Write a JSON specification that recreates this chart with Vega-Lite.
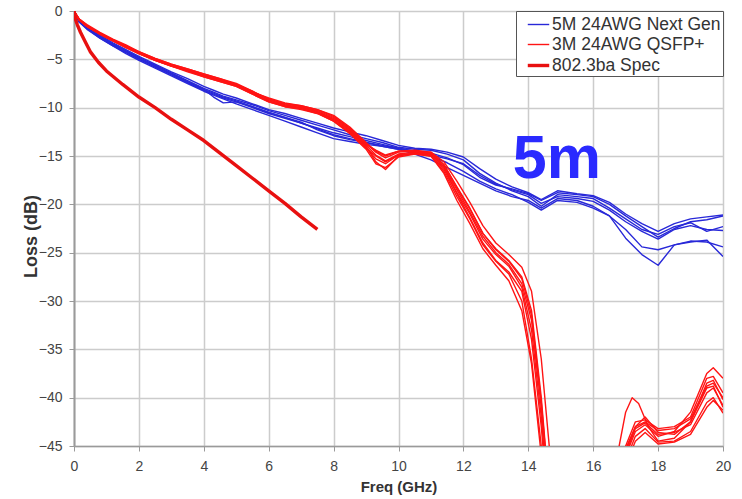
{
"$schema": "https://vega.github.io/schema/vega-lite/v6.json",
"width": 649, "height": 435,
"autosize": {"type": "none"},
"padding": {"left": 74, "top": 11, "right": 19, "bottom": 53},
"background": "white",
"config": {"view": {"stroke": null}, "font": "Liberation Sans"},
"datasets": {
"grp": [
{"s":"b1","g":"5M 24AWG Next Gen"},{"s":"b2","g":"5M 24AWG Next Gen"},{"s":"b3","g":"5M 24AWG Next Gen"},{"s":"b4","g":"5M 24AWG Next Gen"},{"s":"b5","g":"5M 24AWG Next Gen"},{"s":"b6","g":"5M 24AWG Next Gen"},
{"s":"r1","g":"3M 24AWG QSFP+"},{"s":"r2","g":"3M 24AWG QSFP+"},{"s":"r3","g":"3M 24AWG QSFP+"},{"s":"r4","g":"3M 24AWG QSFP+"},{"s":"r5","g":"3M 24AWG QSFP+"},{"s":"r6","g":"3M 24AWG QSFP+"},{"s":"r7","g":"3M 24AWG QSFP+"},{"s":"r8","g":"3M 24AWG QSFP+"},
{"s":"sp","g":"802.3ba Spec"}
],
"pts": [
{"s":"b1","f":0,"l":0},{"s":"b1","f":0.15,"l":-1.0},{"s":"b1","f":0.4,"l":-1.7},{"s":"b1","f":0.8,"l":-2.6},{"s":"b1","f":1.2,"l":-3.4},{"s":"b1","f":1.6,"l":-4.1},{"s":"b1","f":2,"l":-4.8},{"s":"b1","f":2.5,"l":-5.6},{"s":"b1","f":3,"l":-6.4},{"s":"b1","f":3.5,"l":-7.2},{"s":"b1","f":4,"l":-8.0},{"s":"b1","f":4.3,"l":-8.4},{"s":"b1","f":4.6,"l":-8.8},{"s":"b1","f":5,"l":-9.2},{"s":"b1","f":5.5,"l":-9.7},{"s":"b1","f":6,"l":-10.3},{"s":"b1","f":6.5,"l":-10.8},{"s":"b1","f":7,"l":-11.3},{"s":"b1","f":7.5,"l":-11.8},{"s":"b1","f":8,"l":-12.3},{"s":"b1","f":8.5,"l":-12.8},{"s":"b1","f":9,"l":-13.2},{"s":"b1","f":9.5,"l":-13.6},{"s":"b1","f":10,"l":-14.1},{"s":"b1","f":10.5,"l":-14.3},{"s":"b1","f":11,"l":-14.4},{"s":"b1","f":11.5,"l":-14.8},{"s":"b1","f":12,"l":-15.4},{"s":"b1","f":12.5,"l":-16.8},{"s":"b1","f":13,"l":-17.8},{"s":"b1","f":13.5,"l":-18.6},{"s":"b1","f":14,"l":-19.2},{"s":"b1","f":14.4,"l":-20.2},{"s":"b1","f":14.9,"l":-19.0},{"s":"b1","f":15.5,"l":-19.2},{"s":"b1","f":16,"l":-19.4},{"s":"b1","f":16.5,"l":-20.4},{"s":"b1","f":17,"l":-21.5},{"s":"b1","f":17.5,"l":-22.6},{"s":"b1","f":18,"l":-23.1},{"s":"b1","f":18.5,"l":-22.3},{"s":"b1","f":19,"l":-21.9},{"s":"b1","f":19.5,"l":-22.8},{"s":"b1","f":20,"l":-22.3},
{"s":"b2","f":0,"l":0},{"s":"b2","f":0.15,"l":-1.1},{"s":"b2","f":0.4,"l":-1.8},{"s":"b2","f":0.8,"l":-2.8},{"s":"b2","f":1.2,"l":-3.6},{"s":"b2","f":1.6,"l":-4.3},{"s":"b2","f":2,"l":-5.0},{"s":"b2","f":2.5,"l":-5.8},{"s":"b2","f":3,"l":-6.6},{"s":"b2","f":3.5,"l":-7.4},{"s":"b2","f":4,"l":-8.2},{"s":"b2","f":4.3,"l":-8.6},{"s":"b2","f":4.6,"l":-9.0},{"s":"b2","f":5,"l":-9.4},{"s":"b2","f":5.5,"l":-10.0},{"s":"b2","f":6,"l":-10.6},{"s":"b2","f":6.5,"l":-11.1},{"s":"b2","f":7,"l":-11.6},{"s":"b2","f":7.5,"l":-12.1},{"s":"b2","f":8,"l":-12.6},{"s":"b2","f":8.5,"l":-13.0},{"s":"b2","f":9,"l":-13.4},{"s":"b2","f":9.5,"l":-13.8},{"s":"b2","f":10,"l":-14.2},{"s":"b2","f":10.5,"l":-14.5},{"s":"b2","f":11,"l":-14.7},{"s":"b2","f":11.5,"l":-15.2},{"s":"b2","f":12,"l":-15.9},{"s":"b2","f":12.5,"l":-17.2},{"s":"b2","f":13,"l":-18.0},{"s":"b2","f":13.5,"l":-18.4},{"s":"b2","f":14,"l":-18.9},{"s":"b2","f":14.4,"l":-19.6},{"s":"b2","f":14.9,"l":-18.8},{"s":"b2","f":15.5,"l":-19.0},{"s":"b2","f":16,"l":-19.2},{"s":"b2","f":16.5,"l":-20.0},{"s":"b2","f":17,"l":-21.2},{"s":"b2","f":17.5,"l":-22.3},{"s":"b2","f":18,"l":-23.4},{"s":"b2","f":18.5,"l":-22.5},{"s":"b2","f":19,"l":-21.8},{"s":"b2","f":19.5,"l":-21.6},{"s":"b2","f":20,"l":-21.2},
{"s":"b3","f":0,"l":0},{"s":"b3","f":0.15,"l":-1.0},{"s":"b3","f":0.4,"l":-1.8},{"s":"b3","f":0.8,"l":-2.7},{"s":"b3","f":1.2,"l":-3.5},{"s":"b3","f":1.6,"l":-4.2},{"s":"b3","f":2,"l":-4.9},{"s":"b3","f":2.5,"l":-5.7},{"s":"b3","f":3,"l":-6.5},{"s":"b3","f":3.5,"l":-7.3},{"s":"b3","f":4,"l":-8.1},{"s":"b3","f":4.3,"l":-8.9},{"s":"b3","f":4.6,"l":-9.5},{"s":"b3","f":5,"l":-9.4},{"s":"b3","f":5.5,"l":-9.9},{"s":"b3","f":6,"l":-10.5},{"s":"b3","f":6.5,"l":-11.0},{"s":"b3","f":7,"l":-11.6},{"s":"b3","f":7.5,"l":-12.2},{"s":"b3","f":8,"l":-12.8},{"s":"b3","f":8.5,"l":-13.2},{"s":"b3","f":9,"l":-13.6},{"s":"b3","f":9.5,"l":-14.0},{"s":"b3","f":10,"l":-14.3},{"s":"b3","f":10.5,"l":-14.6},{"s":"b3","f":11,"l":-15.0},{"s":"b3","f":11.5,"l":-15.7},{"s":"b3","f":12,"l":-16.6},{"s":"b3","f":12.5,"l":-17.6},{"s":"b3","f":13,"l":-18.4},{"s":"b3","f":13.5,"l":-19.0},{"s":"b3","f":14,"l":-19.8},{"s":"b3","f":14.4,"l":-20.6},{"s":"b3","f":14.9,"l":-19.6},{"s":"b3","f":15.5,"l":-19.8},{"s":"b3","f":16,"l":-20.4},{"s":"b3","f":16.5,"l":-21.2},{"s":"b3","f":17,"l":-23.5},{"s":"b3","f":17.5,"l":-25.2},{"s":"b3","f":18,"l":-26.3},{"s":"b3","f":18.5,"l":-24.2},{"s":"b3","f":19,"l":-23.9},{"s":"b3","f":19.5,"l":-23.7},{"s":"b3","f":20,"l":-25.4},
{"s":"b4","f":0,"l":0},{"s":"b4","f":0.15,"l":-1.1},{"s":"b4","f":0.4,"l":-1.9},{"s":"b4","f":0.8,"l":-2.8},{"s":"b4","f":1.2,"l":-3.6},{"s":"b4","f":1.6,"l":-4.4},{"s":"b4","f":2,"l":-5.1},{"s":"b4","f":2.5,"l":-5.9},{"s":"b4","f":3,"l":-6.7},{"s":"b4","f":3.5,"l":-7.5},{"s":"b4","f":4,"l":-8.3},{"s":"b4","f":4.3,"l":-8.7},{"s":"b4","f":4.6,"l":-9.1},{"s":"b4","f":5,"l":-9.6},{"s":"b4","f":5.5,"l":-10.2},{"s":"b4","f":6,"l":-10.8},{"s":"b4","f":6.5,"l":-11.4},{"s":"b4","f":7,"l":-12.0},{"s":"b4","f":7.5,"l":-12.6},{"s":"b4","f":8,"l":-13.2},{"s":"b4","f":8.5,"l":-13.5},{"s":"b4","f":9,"l":-13.8},{"s":"b4","f":9.5,"l":-14.0},{"s":"b4","f":10,"l":-14.3},{"s":"b4","f":10.5,"l":-14.8},{"s":"b4","f":11,"l":-15.4},{"s":"b4","f":11.5,"l":-16.2},{"s":"b4","f":12,"l":-17.0},{"s":"b4","f":12.5,"l":-17.8},{"s":"b4","f":13,"l":-18.6},{"s":"b4","f":13.5,"l":-19.2},{"s":"b4","f":14,"l":-19.6},{"s":"b4","f":14.4,"l":-20.4},{"s":"b4","f":14.9,"l":-19.4},{"s":"b4","f":15.5,"l":-19.6},{"s":"b4","f":16,"l":-20.2},{"s":"b4","f":16.5,"l":-21.2},{"s":"b4","f":17,"l":-22.6},{"s":"b4","f":17.5,"l":-24.4},{"s":"b4","f":18,"l":-24.7},{"s":"b4","f":18.5,"l":-24.2},{"s":"b4","f":19,"l":-23.8},{"s":"b4","f":19.5,"l":-23.9},{"s":"b4","f":20,"l":-24.4},
{"s":"b5","f":0,"l":0},{"s":"b5","f":0.15,"l":-0.9},{"s":"b5","f":0.4,"l":-1.6},{"s":"b5","f":0.8,"l":-2.5},{"s":"b5","f":1.2,"l":-3.3},{"s":"b5","f":1.6,"l":-4.0},{"s":"b5","f":2,"l":-4.7},{"s":"b5","f":2.5,"l":-5.5},{"s":"b5","f":3,"l":-6.3},{"s":"b5","f":3.5,"l":-7.0},{"s":"b5","f":4,"l":-7.8},{"s":"b5","f":4.3,"l":-8.2},{"s":"b5","f":4.6,"l":-8.6},{"s":"b5","f":5,"l":-9.0},{"s":"b5","f":5.5,"l":-9.6},{"s":"b5","f":6,"l":-10.2},{"s":"b5","f":6.5,"l":-10.6},{"s":"b5","f":7,"l":-11.1},{"s":"b5","f":7.5,"l":-11.6},{"s":"b5","f":8,"l":-12.1},{"s":"b5","f":8.5,"l":-12.5},{"s":"b5","f":9,"l":-12.9},{"s":"b5","f":9.5,"l":-13.4},{"s":"b5","f":10,"l":-13.9},{"s":"b5","f":10.5,"l":-14.2},{"s":"b5","f":11,"l":-14.3},{"s":"b5","f":11.5,"l":-14.6},{"s":"b5","f":12,"l":-15.1},{"s":"b5","f":12.5,"l":-16.3},{"s":"b5","f":13,"l":-17.4},{"s":"b5","f":13.5,"l":-18.2},{"s":"b5","f":14,"l":-18.8},{"s":"b5","f":14.4,"l":-19.5},{"s":"b5","f":14.9,"l":-18.6},{"s":"b5","f":15.5,"l":-18.9},{"s":"b5","f":16,"l":-19.1},{"s":"b5","f":16.5,"l":-19.8},{"s":"b5","f":17,"l":-21.0},{"s":"b5","f":17.5,"l":-22.0},{"s":"b5","f":18,"l":-22.8},{"s":"b5","f":18.5,"l":-22.0},{"s":"b5","f":19,"l":-21.5},{"s":"b5","f":19.5,"l":-21.3},{"s":"b5","f":20,"l":-21.1},
{"s":"b6","f":0,"l":0},{"s":"b6","f":0.15,"l":-1.0},{"s":"b6","f":0.4,"l":-1.7},{"s":"b6","f":0.8,"l":-2.7},{"s":"b6","f":1.2,"l":-3.5},{"s":"b6","f":1.6,"l":-4.2},{"s":"b6","f":2,"l":-4.9},{"s":"b6","f":2.5,"l":-5.7},{"s":"b6","f":3,"l":-6.5},{"s":"b6","f":3.5,"l":-7.3},{"s":"b6","f":4,"l":-8.1},{"s":"b6","f":4.3,"l":-8.5},{"s":"b6","f":4.6,"l":-8.9},{"s":"b6","f":5,"l":-9.3},{"s":"b6","f":5.5,"l":-9.9},{"s":"b6","f":6,"l":-10.5},{"s":"b6","f":6.5,"l":-11.0},{"s":"b6","f":7,"l":-11.5},{"s":"b6","f":7.5,"l":-12.3},{"s":"b6","f":8,"l":-12.9},{"s":"b6","f":8.5,"l":-13.3},{"s":"b6","f":9,"l":-13.6},{"s":"b6","f":9.5,"l":-13.9},{"s":"b6","f":10,"l":-14.2},{"s":"b6","f":10.5,"l":-14.5},{"s":"b6","f":11,"l":-14.9},{"s":"b6","f":11.5,"l":-15.3},{"s":"b6","f":12,"l":-15.8},{"s":"b6","f":12.5,"l":-17.0},{"s":"b6","f":13,"l":-17.9},{"s":"b6","f":13.5,"l":-18.5},{"s":"b6","f":14,"l":-19.0},{"s":"b6","f":14.4,"l":-19.9},{"s":"b6","f":14.9,"l":-19.2},{"s":"b6","f":15.5,"l":-19.4},{"s":"b6","f":16,"l":-19.7},{"s":"b6","f":16.5,"l":-20.6},{"s":"b6","f":17,"l":-21.8},{"s":"b6","f":17.5,"l":-22.8},{"s":"b6","f":18,"l":-23.6},{"s":"b6","f":18.5,"l":-22.6},{"s":"b6","f":19,"l":-22.2},{"s":"b6","f":19.5,"l":-22.6},{"s":"b6","f":20,"l":-22.7},
{"s":"r1","f":0,"l":0},{"s":"r1","f":0.15,"l":-0.8},{"s":"r1","f":0.4,"l":-1.5},{"s":"r1","f":0.8,"l":-2.3},{"s":"r1","f":1.2,"l":-3.0},{"s":"r1","f":1.6,"l":-3.6},{"s":"r1","f":2,"l":-4.2},{"s":"r1","f":2.5,"l":-4.9},{"s":"r1","f":3,"l":-5.5},{"s":"r1","f":3.5,"l":-6.0},{"s":"r1","f":4,"l":-6.5},{"s":"r1","f":4.5,"l":-7.0},{"s":"r1","f":5,"l":-7.5},{"s":"r1","f":5.5,"l":-8.3},{"s":"r1","f":6,"l":-9.1},{"s":"r1","f":6.5,"l":-9.6},{"s":"r1","f":7,"l":-9.8},{"s":"r1","f":7.5,"l":-10.2},{"s":"r1","f":8,"l":-10.8},{"s":"r1","f":8.5,"l":-12.0},{"s":"r1","f":9,"l":-13.6},{"s":"r1","f":9.3,"l":-14.5},{"s":"r1","f":9.6,"l":-15.0},{"s":"r1","f":10,"l":-14.5},{"s":"r1","f":10.5,"l":-14.4},{"s":"r1","f":11,"l":-14.6},{"s":"r1","f":11.4,"l":-15.6},{"s":"r1","f":11.8,"l":-17.6},{"s":"r1","f":12.2,"l":-19.8},{"s":"r1","f":12.6,"l":-22.2},{"s":"r1","f":13,"l":-24.0},{"s":"r1","f":13.4,"l":-25.2},{"s":"r1","f":13.8,"l":-26.5},{"s":"r1","f":14.1,"l":-29.0},{"s":"r1","f":14.4,"l":-36.0},{"s":"r1","f":14.7,"l":-47},{"s":"r1","f":15.5,"l":-70},{"s":"r1","f":16.5,"l":-50},{"s":"r1","f":16.8,"l":-45},{"s":"r1","f":17,"l":-41.5},{"s":"r1","f":17.2,"l":-40.0},{"s":"r1","f":17.4,"l":-40.6},{"s":"r1","f":17.7,"l":-43},{"s":"r1","f":18,"l":-44.5},{"s":"r1","f":18.5,"l":-44.2},{"s":"r1","f":19,"l":-42.5},{"s":"r1","f":19.5,"l":-38.5},{"s":"r1","f":19.7,"l":-38.2},{"s":"r1","f":20,"l":-40.2},
{"s":"r2","f":0,"l":0},{"s":"r2","f":0.15,"l":-0.9},{"s":"r2","f":0.4,"l":-1.6},{"s":"r2","f":0.8,"l":-2.4},{"s":"r2","f":1.2,"l":-3.1},{"s":"r2","f":1.6,"l":-3.7},{"s":"r2","f":2,"l":-4.4},{"s":"r2","f":2.5,"l":-5.1},{"s":"r2","f":3,"l":-5.7},{"s":"r2","f":3.5,"l":-6.2},{"s":"r2","f":4,"l":-6.7},{"s":"r2","f":4.5,"l":-7.2},{"s":"r2","f":5,"l":-7.7},{"s":"r2","f":5.5,"l":-8.5},{"s":"r2","f":6,"l":-9.3},{"s":"r2","f":6.5,"l":-9.8},{"s":"r2","f":7,"l":-10.0},{"s":"r2","f":7.5,"l":-10.4},{"s":"r2","f":8,"l":-11.2},{"s":"r2","f":8.5,"l":-12.4},{"s":"r2","f":9,"l":-14.0},{"s":"r2","f":9.3,"l":-15.6},{"s":"r2","f":9.6,"l":-16.4},{"s":"r2","f":10,"l":-15.0},{"s":"r2","f":10.5,"l":-14.7},{"s":"r2","f":11,"l":-14.8},{"s":"r2","f":11.4,"l":-16.2},{"s":"r2","f":11.8,"l":-18.8},{"s":"r2","f":12.2,"l":-21.0},{"s":"r2","f":12.6,"l":-23.6},{"s":"r2","f":13,"l":-25.2},{"s":"r2","f":13.4,"l":-26.4},{"s":"r2","f":13.8,"l":-28.6},{"s":"r2","f":14.1,"l":-33.0},{"s":"r2","f":14.4,"l":-42.0},{"s":"r2","f":14.7,"l":-54},{"s":"r2","f":15.5,"l":-70},{"s":"r2","f":16.5,"l":-55},{"s":"r2","f":17,"l":-45.5},{"s":"r2","f":17.3,"l":-43.0},{"s":"r2","f":17.6,"l":-42.0},{"s":"r2","f":18,"l":-43.6},{"s":"r2","f":18.5,"l":-43.8},{"s":"r2","f":19,"l":-42.5},{"s":"r2","f":19.5,"l":-39.0},{"s":"r2","f":19.7,"l":-38.8},{"s":"r2","f":20,"l":-41.0},
{"s":"r3","f":0,"l":0},{"s":"r3","f":0.15,"l":-0.8},{"s":"r3","f":0.4,"l":-1.4},{"s":"r3","f":0.8,"l":-2.2},{"s":"r3","f":1.2,"l":-2.9},{"s":"r3","f":1.6,"l":-3.5},{"s":"r3","f":2,"l":-4.2},{"s":"r3","f":2.5,"l":-4.9},{"s":"r3","f":3,"l":-5.5},{"s":"r3","f":3.5,"l":-6.0},{"s":"r3","f":4,"l":-6.5},{"s":"r3","f":4.5,"l":-7.0},{"s":"r3","f":5,"l":-7.6},{"s":"r3","f":5.5,"l":-8.4},{"s":"r3","f":6,"l":-9.0},{"s":"r3","f":6.5,"l":-9.5},{"s":"r3","f":7,"l":-9.8},{"s":"r3","f":7.5,"l":-10.2},{"s":"r3","f":8,"l":-10.9},{"s":"r3","f":8.5,"l":-12.1},{"s":"r3","f":9,"l":-13.7},{"s":"r3","f":9.3,"l":-14.6},{"s":"r3","f":9.6,"l":-15.2},{"s":"r3","f":10,"l":-14.6},{"s":"r3","f":10.5,"l":-14.5},{"s":"r3","f":11,"l":-14.6},{"s":"r3","f":11.4,"l":-15.9},{"s":"r3","f":11.8,"l":-18.2},{"s":"r3","f":12.2,"l":-20.4},{"s":"r3","f":12.6,"l":-23.0},{"s":"r3","f":13,"l":-24.6},{"s":"r3","f":13.4,"l":-25.8},{"s":"r3","f":13.8,"l":-27.5},{"s":"r3","f":14.1,"l":-31.0},{"s":"r3","f":14.4,"l":-40.0},{"s":"r3","f":14.7,"l":-52},{"s":"r3","f":15.5,"l":-70},{"s":"r3","f":16.5,"l":-56},{"s":"r3","f":17,"l":-46},{"s":"r3","f":17.3,"l":-43.5},{"s":"r3","f":17.6,"l":-42.8},{"s":"r3","f":18,"l":-44.0},{"s":"r3","f":18.5,"l":-43.5},{"s":"r3","f":19,"l":-41.5},{"s":"r3","f":19.5,"l":-37.5},{"s":"r3","f":19.7,"l":-36.9},{"s":"r3","f":20,"l":-38.0},
{"s":"r4","f":0,"l":0},{"s":"r4","f":0.15,"l":-0.9},{"s":"r4","f":0.4,"l":-1.6},{"s":"r4","f":0.8,"l":-2.4},{"s":"r4","f":1.2,"l":-3.1},{"s":"r4","f":1.6,"l":-3.8},{"s":"r4","f":2,"l":-4.4},{"s":"r4","f":2.5,"l":-5.1},{"s":"r4","f":3,"l":-5.7},{"s":"r4","f":3.5,"l":-6.2},{"s":"r4","f":4,"l":-6.8},{"s":"r4","f":4.5,"l":-7.3},{"s":"r4","f":5,"l":-7.8},{"s":"r4","f":5.5,"l":-8.6},{"s":"r4","f":6,"l":-9.4},{"s":"r4","f":6.5,"l":-9.9},{"s":"r4","f":7,"l":-10.1},{"s":"r4","f":7.5,"l":-10.6},{"s":"r4","f":8,"l":-11.4},{"s":"r4","f":8.5,"l":-12.6},{"s":"r4","f":9,"l":-14.2},{"s":"r4","f":9.3,"l":-15.0},{"s":"r4","f":9.6,"l":-15.6},{"s":"r4","f":10,"l":-14.9},{"s":"r4","f":10.5,"l":-14.8},{"s":"r4","f":11,"l":-15.0},{"s":"r4","f":11.4,"l":-16.8},{"s":"r4","f":11.8,"l":-19.6},{"s":"r4","f":12.2,"l":-22.0},{"s":"r4","f":12.6,"l":-24.6},{"s":"r4","f":13,"l":-26.3},{"s":"r4","f":13.4,"l":-27.9},{"s":"r4","f":13.8,"l":-31.0},{"s":"r4","f":14.1,"l":-36.5},{"s":"r4","f":14.4,"l":-46.0},{"s":"r4","f":14.7,"l":-58},{"s":"r4","f":15.5,"l":-70},{"s":"r4","f":16.5,"l":-58},{"s":"r4","f":17,"l":-46.5},{"s":"r4","f":17.3,"l":-44.0},{"s":"r4","f":17.6,"l":-43.2},{"s":"r4","f":18,"l":-44.6},{"s":"r4","f":18.5,"l":-44.5},{"s":"r4","f":19,"l":-43.5},{"s":"r4","f":19.5,"l":-40.5},{"s":"r4","f":19.7,"l":-40.0},{"s":"r4","f":20,"l":-41.6},
{"s":"r5","f":0,"l":0},{"s":"r5","f":0.15,"l":-0.8},{"s":"r5","f":0.4,"l":-1.5},{"s":"r5","f":0.8,"l":-2.3},{"s":"r5","f":1.2,"l":-3.0},{"s":"r5","f":1.6,"l":-3.6},{"s":"r5","f":2,"l":-4.3},{"s":"r5","f":2.5,"l":-5.0},{"s":"r5","f":3,"l":-5.6},{"s":"r5","f":3.5,"l":-6.1},{"s":"r5","f":4,"l":-6.6},{"s":"r5","f":4.5,"l":-7.1},{"s":"r5","f":5,"l":-7.6},{"s":"r5","f":5.5,"l":-8.3},{"s":"r5","f":6,"l":-9.2},{"s":"r5","f":6.5,"l":-9.7},{"s":"r5","f":7,"l":-10.0},{"s":"r5","f":7.5,"l":-10.4},{"s":"r5","f":8,"l":-11.1},{"s":"r5","f":8.5,"l":-12.3},{"s":"r5","f":9,"l":-13.9},{"s":"r5","f":9.3,"l":-14.9},{"s":"r5","f":9.6,"l":-15.5},{"s":"r5","f":10,"l":-14.8},{"s":"r5","f":10.5,"l":-14.6},{"s":"r5","f":11,"l":-14.7},{"s":"r5","f":11.4,"l":-16.1},{"s":"r5","f":11.8,"l":-18.5},{"s":"r5","f":12.2,"l":-20.8},{"s":"r5","f":12.6,"l":-23.3},{"s":"r5","f":13,"l":-25.0},{"s":"r5","f":13.4,"l":-26.2},{"s":"r5","f":13.8,"l":-28.2},{"s":"r5","f":14.1,"l":-32.0},{"s":"r5","f":14.4,"l":-41.0},{"s":"r5","f":14.7,"l":-53},{"s":"r5","f":15.5,"l":-70},{"s":"r5","f":16.5,"l":-54},{"s":"r5","f":17,"l":-45.0},{"s":"r5","f":17.3,"l":-42.5},{"s":"r5","f":17.6,"l":-42.3},{"s":"r5","f":18,"l":-43.2},{"s":"r5","f":18.5,"l":-43.0},{"s":"r5","f":19,"l":-42.0},{"s":"r5","f":19.5,"l":-38.0},{"s":"r5","f":19.7,"l":-37.8},{"s":"r5","f":20,"l":-39.5},
{"s":"r6","f":0,"l":0},{"s":"r6","f":0.15,"l":-0.9},{"s":"r6","f":0.4,"l":-1.6},{"s":"r6","f":0.8,"l":-2.4},{"s":"r6","f":1.2,"l":-3.1},{"s":"r6","f":1.6,"l":-3.7},{"s":"r6","f":2,"l":-4.3},{"s":"r6","f":2.5,"l":-5.0},{"s":"r6","f":3,"l":-5.6},{"s":"r6","f":3.5,"l":-6.2},{"s":"r6","f":4,"l":-6.7},{"s":"r6","f":4.5,"l":-7.2},{"s":"r6","f":5,"l":-7.7},{"s":"r6","f":5.5,"l":-8.5},{"s":"r6","f":6,"l":-9.3},{"s":"r6","f":6.5,"l":-9.8},{"s":"r6","f":7,"l":-10.1},{"s":"r6","f":7.5,"l":-10.5},{"s":"r6","f":8,"l":-11.3},{"s":"r6","f":8.5,"l":-12.5},{"s":"r6","f":9,"l":-14.1},{"s":"r6","f":9.3,"l":-15.3},{"s":"r6","f":9.6,"l":-15.8},{"s":"r6","f":10,"l":-14.9},{"s":"r6","f":10.5,"l":-14.7},{"s":"r6","f":11,"l":-14.9},{"s":"r6","f":11.4,"l":-16.4},{"s":"r6","f":11.8,"l":-18.9},{"s":"r6","f":12.2,"l":-21.4},{"s":"r6","f":12.6,"l":-24.0},{"s":"r6","f":13,"l":-25.8},{"s":"r6","f":13.4,"l":-27.0},{"s":"r6","f":13.8,"l":-29.0},{"s":"r6","f":14.1,"l":-34.0},{"s":"r6","f":14.4,"l":-43.0},{"s":"r6","f":14.7,"l":-55},{"s":"r6","f":15.5,"l":-70},{"s":"r6","f":16.5,"l":-57},{"s":"r6","f":17,"l":-45.8},{"s":"r6","f":17.3,"l":-43.2},{"s":"r6","f":17.6,"l":-42.6},{"s":"r6","f":18,"l":-43.8},{"s":"r6","f":18.5,"l":-43.6},{"s":"r6","f":19,"l":-42.8},{"s":"r6","f":19.5,"l":-39.5},{"s":"r6","f":19.7,"l":-39.0},{"s":"r6","f":20,"l":-40.8},
{"s":"r7","f":0,"l":0},{"s":"r7","f":0.15,"l":-0.8},{"s":"r7","f":0.4,"l":-1.5},{"s":"r7","f":0.8,"l":-2.3},{"s":"r7","f":1.2,"l":-3.0},{"s":"r7","f":1.6,"l":-3.6},{"s":"r7","f":2,"l":-4.3},{"s":"r7","f":2.5,"l":-5.0},{"s":"r7","f":3,"l":-5.6},{"s":"r7","f":3.5,"l":-6.1},{"s":"r7","f":4,"l":-6.6},{"s":"r7","f":4.5,"l":-7.1},{"s":"r7","f":5,"l":-7.6},{"s":"r7","f":5.5,"l":-8.4},{"s":"r7","f":6,"l":-9.1},{"s":"r7","f":6.5,"l":-9.6},{"s":"r7","f":7,"l":-9.9},{"s":"r7","f":7.5,"l":-10.3},{"s":"r7","f":8,"l":-11.0},{"s":"r7","f":8.5,"l":-12.2},{"s":"r7","f":9,"l":-13.8},{"s":"r7","f":9.3,"l":-14.4},{"s":"r7","f":9.6,"l":-14.9},{"s":"r7","f":10,"l":-14.5},{"s":"r7","f":10.5,"l":-14.5},{"s":"r7","f":11,"l":-14.7},{"s":"r7","f":11.4,"l":-15.9},{"s":"r7","f":11.8,"l":-18.3},{"s":"r7","f":12.2,"l":-20.5},{"s":"r7","f":12.6,"l":-23.0},{"s":"r7","f":13,"l":-24.7},{"s":"r7","f":13.4,"l":-25.9},{"s":"r7","f":13.8,"l":-27.7},{"s":"r7","f":14.1,"l":-31.5},{"s":"r7","f":14.4,"l":-40.5},{"s":"r7","f":14.7,"l":-52},{"s":"r7","f":15.5,"l":-70},{"s":"r7","f":16.5,"l":-55},{"s":"r7","f":17,"l":-45.3},{"s":"r7","f":17.3,"l":-43.0},{"s":"r7","f":17.6,"l":-42.5},{"s":"r7","f":18,"l":-43.4},{"s":"r7","f":18.5,"l":-43.2},{"s":"r7","f":19,"l":-42.2},{"s":"r7","f":19.5,"l":-38.8},{"s":"r7","f":19.7,"l":-38.5},{"s":"r7","f":20,"l":-40.0},
{"s":"r8","f":0,"l":0},{"s":"r8","f":0.15,"l":-0.9},{"s":"r8","f":0.4,"l":-1.6},{"s":"r8","f":0.8,"l":-2.4},{"s":"r8","f":1.2,"l":-3.1},{"s":"r8","f":1.6,"l":-3.8},{"s":"r8","f":2,"l":-4.4},{"s":"r8","f":2.5,"l":-5.1},{"s":"r8","f":3,"l":-5.7},{"s":"r8","f":3.5,"l":-6.3},{"s":"r8","f":4,"l":-6.8},{"s":"r8","f":4.5,"l":-7.3},{"s":"r8","f":5,"l":-7.8},{"s":"r8","f":5.5,"l":-8.6},{"s":"r8","f":6,"l":-9.4},{"s":"r8","f":6.5,"l":-9.9},{"s":"r8","f":7,"l":-10.2},{"s":"r8","f":7.5,"l":-10.6},{"s":"r8","f":8,"l":-11.4},{"s":"r8","f":8.5,"l":-12.7},{"s":"r8","f":9,"l":-14.3},{"s":"r8","f":9.3,"l":-15.8},{"s":"r8","f":9.6,"l":-16.2},{"s":"r8","f":10,"l":-15.1},{"s":"r8","f":10.5,"l":-14.8},{"s":"r8","f":11,"l":-15.0},{"s":"r8","f":11.4,"l":-16.6},{"s":"r8","f":11.8,"l":-19.2},{"s":"r8","f":12.2,"l":-21.5},{"s":"r8","f":12.6,"l":-24.2},{"s":"r8","f":13,"l":-25.9},{"s":"r8","f":13.4,"l":-27.2},{"s":"r8","f":13.8,"l":-30.0},{"s":"r8","f":14.1,"l":-36.0},{"s":"r8","f":14.4,"l":-45.0},{"s":"r8","f":14.7,"l":-57},{"s":"r8","f":15.5,"l":-70},{"s":"r8","f":16.5,"l":-58},{"s":"r8","f":17,"l":-47.0},{"s":"r8","f":17.3,"l":-44.5},{"s":"r8","f":17.6,"l":-43.6},{"s":"r8","f":18,"l":-44.8},{"s":"r8","f":18.5,"l":-44.6},{"s":"r8","f":19,"l":-43.8},{"s":"r8","f":19.5,"l":-41.0},{"s":"r8","f":19.7,"l":-40.3},{"s":"r8","f":20,"l":-41.3},
{"s":"sp","f":0,"l":0},{"s":"sp","f":0.05,"l":-0.9},{"s":"sp","f":0.1,"l":-1.4},{"s":"sp","f":0.2,"l":-2.2},{"s":"sp","f":0.35,"l":-3.2},{"s":"sp","f":0.5,"l":-4.2},{"s":"sp","f":0.75,"l":-5.3},{"s":"sp","f":1,"l":-6.2},{"s":"sp","f":1.5,"l":-7.6},{"s":"sp","f":2,"l":-8.9},{"s":"sp","f":2.5,"l":-10.0},{"s":"sp","f":3,"l":-11.2},{"s":"sp","f":3.5,"l":-12.3},{"s":"sp","f":4,"l":-13.4},{"s":"sp","f":4.5,"l":-14.7},{"s":"sp","f":5,"l":-16.0},{"s":"sp","f":5.5,"l":-17.3},{"s":"sp","f":6,"l":-18.6},{"s":"sp","f":6.5,"l":-19.9},{"s":"sp","f":7,"l":-21.3},{"s":"sp","f":7.5,"l":-22.6}
],
"note": [{"f": 14.88, "l": -17.3, "t": "5m"}]
},
"encoding": {
  "x": {"field": "f", "type": "quantitative", "scale": {"domain": [0, 20], "nice": false},
    "axis": {"title": "Freq (GHz)", "values": [0,2,4,6,8,10,12,14,16,18,20], "grid": true, "gridColor": "#cccccc", "gridWidth": 1.5,
      "domainColor": "#9a9a9a", "domainWidth": 1.5, "tickColor": "#9a9a9a", "tickSize": 5, "labelFontSize": 14, "labelColor": "#444444",
      "labelPadding": 8, "labelFlush": false, "titleFontSize": 15, "titleFontWeight": "bold", "titleColor": "#333333", "titlePadding": 6}},
  "y": {"field": "l", "type": "quantitative", "scale": {"domain": [-45, 0], "nice": false},
    "axis": {"title": "Loss (dB)", "values": [0,-5,-10,-15,-20,-25,-30,-35,-40,-45], "grid": true, "gridColor": "#cccccc", "gridWidth": 1.5,
      "domainColor": "#9a9a9a", "domainWidth": 2, "tickColor": "#9a9a9a", "tickSize": 5, "labelFontSize": 14, "labelColor": "#444444",
      "labelPadding": 7, "titleFontSize": 18, "titleFontWeight": "bold", "titleColor": "#333333", "titleAngle": -90,
      "titleX": -43, "titleY": 225, "titleBaseline": "middle", "titleAlign": "center"}}
},
"layer": [
  {"data": {"name": "pts"},
   "transform": [{"lookup": "s", "from": {"data": {"name": "grp"}, "key": "s", "fields": ["g"]}}],
   "mark": {"type": "line", "clip": true, "strokeJoin": "round"},
   "encoding": {
     "color": {"field": "g", "type": "nominal",
       "scale": {"domain": ["5M 24AWG Next Gen", "3M 24AWG QSFP+", "802.3ba Spec"], "range": ["#2828d8", "#ff1414", "#e81010"]},
       "legend": {"title": null, "orient": "top-right", "offset": 0, "padding": 2, "strokeColor": "#555555", "fillColor": "white",
         "symbolType": "stroke", "symbolSize": 460, "symbolOffset": 8, "labelFontSize": 17.5, "labelColor": "#333333", "labelFont": "Liberation Sans",
         "rowPadding": 0, "labelOffset": 1, "labelLimit": 300}},
     "strokeWidth": {"field": "g", "type": "nominal",
       "scale": {"type": "ordinal", "domain": ["5M 24AWG Next Gen", "3M 24AWG QSFP+", "802.3ba Spec"], "range": [1.4, 1.4, 3.4]},
       "legend": {"title": null, "orient": "top-right", "offset": 0, "padding": 2, "strokeColor": "#555555", "fillColor": "white",
         "symbolType": "stroke", "symbolSize": 460, "symbolOffset": 8, "labelFontSize": 17.5, "labelColor": "#333333", "labelFont": "Liberation Sans",
         "rowPadding": 0, "labelOffset": 1, "labelLimit": 300}},
     "detail": {"field": "s"}
   }},
  {"data": {"name": "note"},
   "mark": {"type": "text", "fontSize": 61, "fontWeight": "bold", "font": "Liberation Sans", "color": "#2a2aff", "align": "center", "baseline": "alphabetic"},
   "encoding": {"text": {"field": "t"}}}
]
}
